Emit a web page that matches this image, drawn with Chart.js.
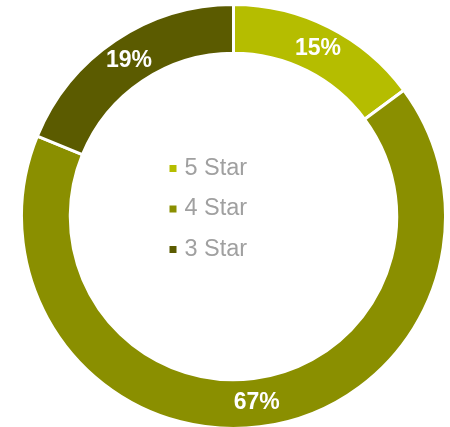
<!DOCTYPE html>
<html>
<head>
<meta charset="utf-8">
<script src="https://cdn.jsdelivr.net/npm/chart.js@4"></script>
<style>
html,body{margin:0;padding:0;overflow:hidden;background:#fff;}
#wrap{position:absolute;left:0;top:0;width:450px;height:431px;}
</style>
</head>
<body>
<div id="wrap"><canvas id="c"></canvas></div>
<script>
const categories = ['5 Star', '4 Star', '3 Star'];
const values = [15, 67, 19];
const valueLabels = ['15%', '67%', '19%'];
const colors = ['#b5bd00', '#8a8f00', '#5b5b00'];

const arcLabels = {
  id: 'arcLabels',
  afterDatasetsDraw(chart) {
    const ctx = chart.ctx;
    const meta = chart.getDatasetMeta(0);
    ctx.save();
    ctx.fillStyle = '#ffffff';
    ctx.font = 'bold 23px "Liberation Sans", Arial, sans-serif';
    ctx.textAlign = 'center';
    ctx.textBaseline = 'middle';
    meta.data.forEach((arc, i) => {
      const p = arc.getCenterPoint();
      ctx.fillText(valueLabels[i], p.x, p.y);
    });
    ctx.restore();
  }
};

const centerLegend = {
  id: 'centerLegend',
  afterDraw(chart) {
    const ctx = chart.ctx;
    const meta = chart.getDatasetMeta(0);
    const arc = meta.data[0];
    const cx = arc.x, cy = arc.y;
    ctx.save();
    ctx.font = '23.5px "Liberation Sans", Arial, sans-serif';
    ctx.textBaseline = 'middle';
    ctx.textAlign = 'left';
    const gap = 40.5;
    const startY = cy - 48;
    categories.forEach((c, i) => {
      const y = startY + i * gap;
      ctx.fillStyle = colors[i];
      ctx.fillRect(cx - 64, y - 3.5, 7, 7);
      ctx.fillStyle = '#a0a0a0';
      ctx.fillText(c, cx - 49, y);
    });
    ctx.restore();
  }
};

new Chart(document.getElementById('c'), {
  type: 'doughnut',
  data: {
    labels: categories,
    datasets: [{
      data: values,
      backgroundColor: colors,
      borderColor: '#ffffff',
      borderWidth: 3,
      hoverOffset: 0
    }]
  },
  options: {
    responsive: true,
    maintainAspectRatio: false,
    animation: false,
    cutout: '77%',
    layout: { padding: { left: 20, right: 3, top: 2, bottom: 0 } },
    plugins: {
      legend: { display: false },
      tooltip: { enabled: false }
    }
  },
  plugins: [arcLabels, centerLegend]
});
</script>
</body>
</html>
